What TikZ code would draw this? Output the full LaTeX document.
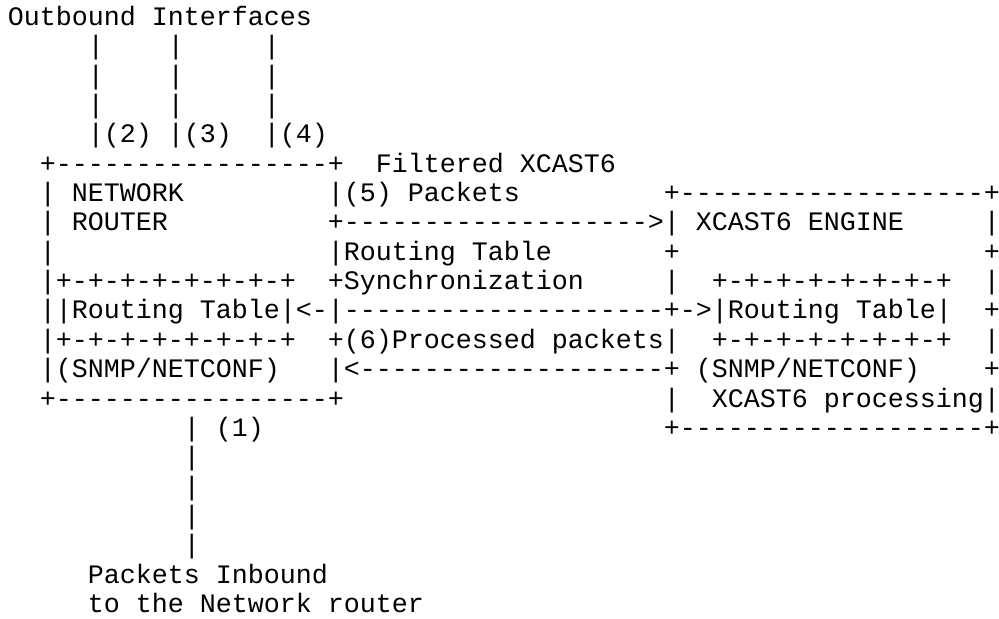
\documentclass[tikz,border=0pt]{standalone}
\usepackage{fontspec}
\setmonofont{Liberation Mono}

\begin{document}
\begin{tikzpicture}[x=8pt,y=-14.675pt,
    asc/.style={font=\ttfamily\fontsize{13.333}{14.675}\selectfont,
      anchor=base west, inner sep=0pt, outer sep=0pt}]

% Cadre de l'image (une colonne = 8pt, une ligne = 14.675pt)
\fill[white] (-0.5,-0.869) rectangle (61.94,20.222);
\useasboundingbox (-0.5,-0.869) rectangle (61.94,20.222);

% Interfaces sortantes
\node[asc] (outlabel) at (0,0) {Outbound Interfaces};
\foreach \l in {1,2,3} {
  \node[asc] (ifa-\l) at (5,\l) {|};
  \node[asc] (ifb-\l) at (10,\l) {|};
  \node[asc] (ifc-\l) at (16,\l) {|};
}
\node[asc] (if2) at (5,4) {|(2)};
\node[asc] (if3) at (10,4) {|(3)};
\node[asc] (if4) at (16,4) {|(4)};

% Routeur
\node[asc] (rtop) at (2,5) {+-----------------+};
\node[asc] (filtered) at (23,5) {Filtered XCAST6};
\node[asc] (rl6) at (2,6) {|};
\node[asc] (rname) at (4,6) {NETWORK};
\node[asc] (pkt5) at (20,6) {|(5) Packets};
\node[asc] (etop) at (41,6) {+-------------------+};
\node[asc] (rl7) at (2,7) {|};
\node[asc] (rname2) at (4,7) {ROUTER};
\node[asc] (arr5) at (20,7) {+------------------->| XCAST6 ENGINE};
\node[asc] (er7) at (61,7) {|};
\node[asc] (rl8) at (2,8) {|};
\node[asc] (sync) at (20,8) {|Routing Table};
\node[asc] (el8) at (41,8) {+};
\node[asc] (er8) at (61,8) {+};

% Tables de routage
\node[asc] (rtab1) at (2,9) {|+-+-+-+-+-+-+-+};
\node[asc] (sync2) at (20,9) {+Synchronization};
\node[asc] (el9) at (41,9) {|};
\node[asc] (etab1) at (44,9) {+-+-+-+-+-+-+-+};
\node[asc] (er9) at (61,9) {|};
\node[asc] (tabs) at (2,10) {||Routing Table|<-|--------------------+->|Routing Table|};
\node[asc] (er10) at (61,10) {+};
\node[asc] (rtab2) at (2,11) {|+-+-+-+-+-+-+-+};
\node[asc] (pkt6) at (20,11) {+(6)Processed packets|};
\node[asc] (etab2) at (44,11) {+-+-+-+-+-+-+-+};
\node[asc] (er11) at (61,11) {|};
\node[asc] (rsnmp) at (2,12) {|(SNMP/NETCONF)};
\node[asc] (arr6) at (20,12) {|<-------------------+};
\node[asc] (esnmp) at (43,12) {(SNMP/NETCONF)};
\node[asc] (er12) at (61,12) {+};
\node[asc] (rbot) at (2,13) {+-----------------+};
\node[asc] (el13) at (41,13) {|};
\node[asc] (eproc) at (44,13) {XCAST6 processing|};

% Paquets entrants
\node[asc] (in1) at (11,14) {|};
\node[asc] (lab1) at (13,14) {(1)};
\node[asc] (ebot) at (41,14) {+-------------------+};
\foreach \l in {15,...,18}
  \node[asc] (in-\l) at (11,\l) {|};
\node[asc] (inlabel) at (5,19) {Packets Inbound};
\node[asc] (inlabel2) at (5,20) {to the Network router};

\end{tikzpicture}
\end{document}
